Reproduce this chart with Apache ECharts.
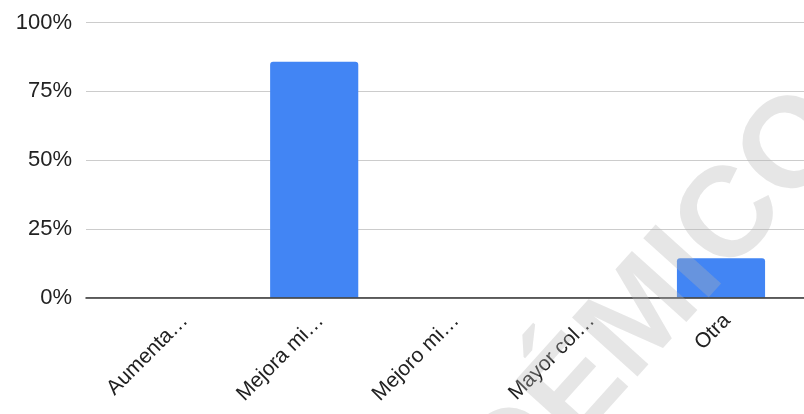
<!DOCTYPE html>
<html>
<head>
<meta charset="utf-8">
<script src="https://cdn.jsdelivr.net/npm/echarts@6/dist/echarts.min.js"></script>
<style>
  html, body { margin: 0; padding: 0; background: #fff; }
  #chart { width: 804px; height: 414px; }
</style>
</head>
<body>
<div id="chart"></div>
<script>
  // datos
  const categories = ['Aumenta…', 'Mejora mi…', 'Mejoro mi…', 'Mayor col…', 'Otra'];
  const values = [0, 85.7, 0, 0, 14.3];
  const yTicks = [0, 25, 50, 75, 100];
  const watermark = 'ACADÉMICO';

  const font = 'Arial, "Liberation Sans", sans-serif';
  const myChart = echarts.init(document.getElementById('chart'));

  myChart.setOption({
    animation: false,
    backgroundColor: '#fff',
    grid: [
      // barras
      { left: 110.8, right: 15.2, top: 22.5, bottom: 116.5 },
      // lineas de fondo, ocupan todo el ancho
      { left: 86, right: 0, top: 22.5, bottom: 116.5 },
      // etiquetas del eje x, un poco corridas a la derecha
      { left: 117, right: 9, top: 22.5, bottom: 116.5 }
    ],
    xAxis: [
      {
        type: 'category',
        gridIndex: 0,
        data: categories,
        axisLine: { show: false },
        axisTick: { show: false },
        axisLabel: { show: false }
      },
      {
        type: 'value',
        gridIndex: 1,
        min: 0,
        max: 1,
        z: 5,
        axisLine: { show: true, lineStyle: { color: '#333', width: 1.5 } },
        axisTick: { show: false },
        axisLabel: { show: false },
        splitLine: { show: false }
      },
      {
        type: 'category',
        gridIndex: 2,
        data: categories,
        axisLine: { show: false },
        axisTick: { show: false },
        axisLabel: {
          interval: 0,
          rotate: 45,
          margin: 20,
          color: '#222',
          fontSize: 21,
          fontFamily: font
        }
      }
    ],
    yAxis: [
      {
        type: 'value',
        gridIndex: 0,
        min: yTicks[0],
        max: yTicks[yTicks.length - 1],
        show: false
      },
      {
        type: 'value',
        gridIndex: 1,
        min: yTicks[0],
        max: yTicks[yTicks.length - 1],
        interval: yTicks[1] - yTicks[0],
        axisLine: { show: false },
        axisTick: { show: false },
        axisLabel: {
          margin: 14,
          color: '#222',
          fontSize: 22,
          fontFamily: font,
          formatter: '{value}%'
        },
        splitLine: { lineStyle: { color: '#ccc', width: 1 } }
      },
      {
        type: 'value',
        gridIndex: 2,
        min: yTicks[0],
        max: yTicks[yTicks.length - 1],
        show: false
      }
    ],
    series: [
      {
        type: 'bar',
        xAxisIndex: 0,
        yAxisIndex: 0,
        data: values,
        barWidth: '65%',
        itemStyle: {
          color: '#4285f4',
          borderRadius: [3, 3, 0, 0]
        }
      }
    ],
    graphic: [
      {
        type: 'text',
        x: 565,
        y: 404,
        rotation: 48 * Math.PI / 180,
        z: 100,
        silent: true,
        style: {
          text: watermark,
          fontSize: 128,
          fontWeight: 'bold',
          fontFamily: font,
          fill: 'rgba(180,180,180,0.33)',
          align: 'center',
          verticalAlign: 'middle'
        }
      }
    ]
  });
</script>
</body>
</html>
